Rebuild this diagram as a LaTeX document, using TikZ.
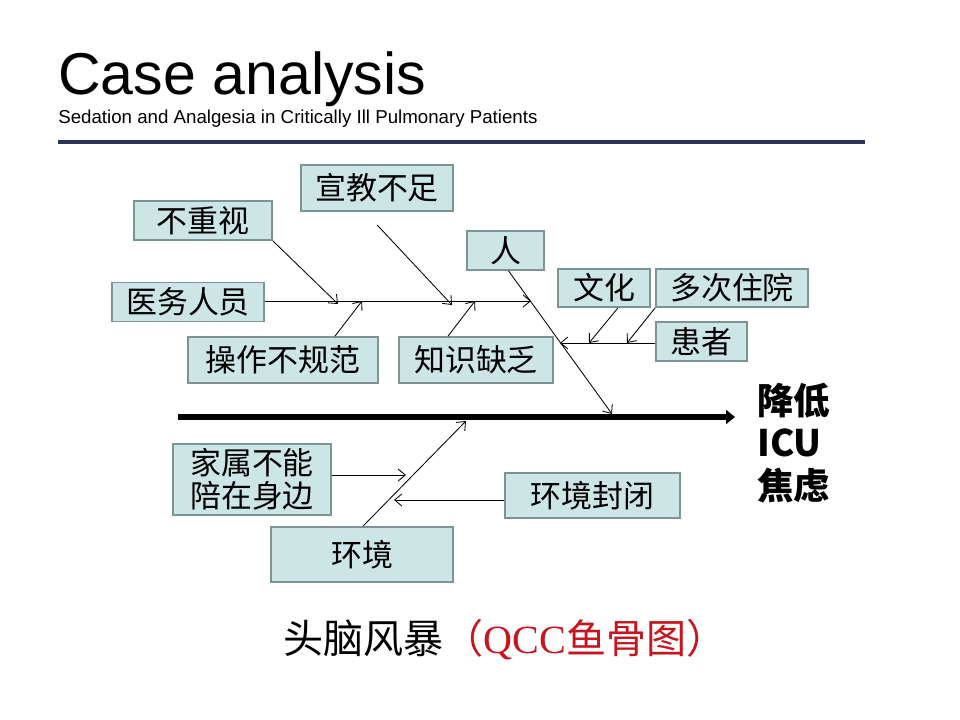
\documentclass[tikz,border=0pt]{standalone}
\usepackage{fontspec}
\setmainfont{Liberation Sans}
\newfontfamily\cjk{Noto Sans CJK SC}
\newfontfamily\qccfont{Liberation Serif}
\usepackage{xcolor}
\usetikzlibrary{arrows.meta,calc}
\definecolor{boxfill}{RGB}{204,230,230}
\definecolor{boxline}{RGB}{125,148,148}
\definecolor{rulenavy}{RGB}{46,52,89}
\definecolor{capred}{RGB}{200,20,30}

\begin{document}
\begin{tikzpicture}[x=0.025cm,y=-0.025cm,
  every node/.style={inner sep=0pt},
  box/.style 2 args={draw=boxline,line width=1.2pt,fill=boxfill,
    minimum width=#1*0.025cm,minimum height=#2*0.025cm,
    font=\cjk\fontsize{22}{23.5}\selectfont,align=center},
  arr/.style={-{Straight Barb[length=1.8mm,width=3mm]},line width=0.6pt},
  spine/.style={-{Triangle[length=2.2mm,width=3.4mm]},line width=4.2pt}]
\useasboundingbox (0,0) rectangle (960,720);

\node[anchor=base west,font=\fontsize{42}{48}\selectfont] (title) at (58,95) {Case analysis};
\node[anchor=base west,font=\fontsize{13.3}{16}\selectfont] (subtitle) at (58,124)
  {Sedation and Analgesia in Critically Ill Pulmonary Patients};
\draw[rulenavy,line width=2.2pt] (58,142) -- (865,142);

\node[box={138}{39}] (buzhongshi) at (203,220.5) {不重视};
\node[box={152}{46}] (xuanjiao) at (377,188) {宣教不足};
\node[box={77}{39}] (ren) at (505.5,250.5) {人};
\node[box={152}{39}] (yiwu) at (188,302) {医务人员};
\node[box={190}{46}] (caozuo) at (283,360) {操作不规范};
\node[box={154}{46}] (zhishi) at (476,360) {知识缺乏};
\node[box={92}{38}] (wenhua) at (604,288) {文化};
\node[box={152}{38}] (duoci) at (732,288) {多次住院};
\node[box={91}{39}] (huanzhe) at (701.5,341.5) {患者};
\node[box={158}{71}] (jiashu) at (252,479.5) {家属不能\\陪在身边};
\node[box={182}{55}] (huanjing) at (362,554.5) {环境};
\node[box={175}{45}] (fengbi) at (592.5,495.5) {环境封闭};

\node[anchor=west,align=left,font=\cjk\bfseries\fontsize{26}{30.5}\selectfont] (goal)
  at (757,443) {降低\\ICU\\焦虑};

\coordinate (tail) at (178,417);
\coordinate (head) at (735,417);
\draw[spine] (tail) -- (head);

\coordinate (renend) at (612,414);
\draw[arr] ($(ren.south)+(3,0)$) -- (renend);
\coordinate (renj) at (531,301);
\draw[arr] (yiwu.east |- renj) -- (renj);
\coordinate (j1) at (338,304);
\draw[arr] (buzhongshi.south east) -- (j1);
\coordinate (j2) at (362,301);
\draw[arr] ($(caozuo.north)+(52,0)$) -- (j2);
\coordinate (j3) at (452,305);
\draw[arr] ($(xuanjiao.south)+(0,13)$) -- (j3);
\coordinate (j4) at (475,301);
\draw[arr] ($(zhishi.north)+(-28,0)$) -- (j4);

\coordinate (pj) at (560,343);
\draw[arr] (huanzhe.west |- pj) -- (pj);
\coordinate (j5) at (589,343);
\draw[arr] ($(wenhua.south)+(14,0)$) -- (j5);
\coordinate (j6) at (627,343);
\draw[arr] (duoci.south west) -- (j6);

\coordinate (ej) at (466,421);
\draw[arr] ($(huanjing.north)+(1,0)$) -- (ej);
\coordinate (j7) at (406,475);
\draw[arr] (jiashu.east |- j7) -- (j7);
\coordinate (j8) at (394,500);
\draw[arr] (fengbi.west |- j8) -- (j8);

\node[font=\cjk\fontsize{28.5}{33}\selectfont] (caption) at (505,640)
  {头脑风暴\textcolor{capred}{（{\qccfont QCC}鱼骨图）}};
\end{tikzpicture}
\end{document}
